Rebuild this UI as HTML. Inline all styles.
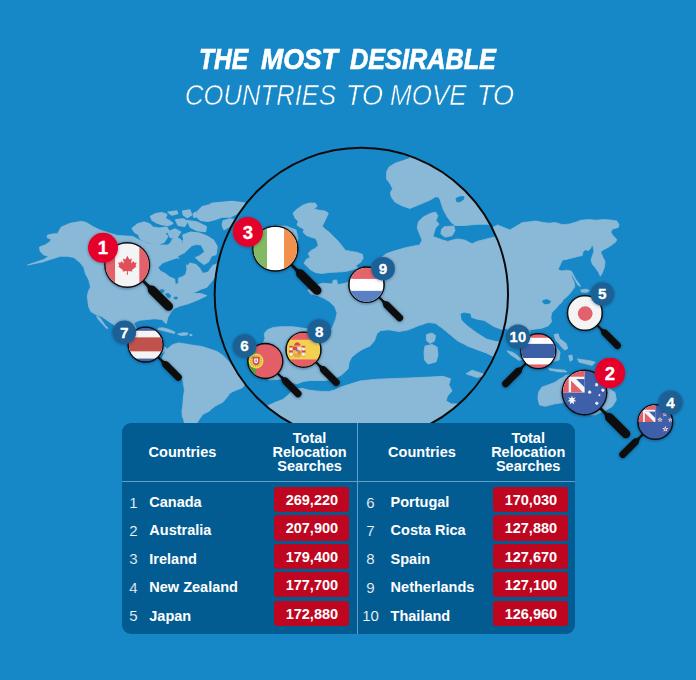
<!DOCTYPE html>
<html><head><meta charset="utf-8"><title>The most desirable countries to move to</title>
<style>
html,body{margin:0;padding:0}
body{width:696px;height:680px;overflow:hidden;background:#1788c7;position:relative;font-family:"Liberation Sans",sans-serif;color:#fff}
.t1,.t2{position:absolute;left:0;width:696px;height:36px;text-align:left;white-space:nowrap;font-style:italic;color:#fff}
.t1{top:40.5px;font-size:29.5px;font-weight:700;line-height:36px;-webkit-text-stroke:0.7px #fff}
.t2{top:77px;font-size:30px;font-weight:400;line-height:36px;-webkit-text-stroke:0.5px #1788c7}
.t1 span,.t2 span{position:absolute;top:0;display:block;transform-origin:0 50%}
.tbl{position:absolute;left:121.5px;top:423.3px;width:453.8px;height:211.2px;background:#035c91;border-radius:9px}
.hl{position:absolute;left:121.5px;top:480.6px;width:453.8px;height:1px;background:#5f9fc9}
.vl{position:absolute;left:356.7px;top:423.3px;width:1px;height:211.2px;background:#5f9fc9}
.hd{position:absolute;font-weight:700;font-size:14.5px;line-height:17px;white-space:nowrap}
.tot{position:absolute;width:100px;text-align:center;font-weight:700;font-size:14.5px;line-height:13.9px;white-space:nowrap}
.num{position:absolute;width:30px;text-align:center;font-size:15px;line-height:17px;color:#ffffff;-webkit-text-stroke:0.2px #035c91}
.nm{position:absolute;font-weight:700;font-size:14.5px;line-height:17px;white-space:nowrap}
.bx{position:absolute;width:75px;height:25.2px;border-radius:3px;background:#be0621;text-align:center;font-weight:700;font-size:14.5px;line-height:27.4px;white-space:nowrap}
</style></head><body>
<div class="t1"><span style="left:199.3px;transform:scaleX(0.833)">THE</span><span style="left:261.2px;transform:scaleX(0.902)">MOST</span><span style="left:350.1px;transform:scaleX(0.856)">DESIRABLE</span></div>
<div class="t2"><span style="left:184.8px;transform:scaleX(0.855)">COUNTRIES</span><span style="left:345.5px;transform:scaleX(0.905)">TO</span><span style="left:390.4px;transform:scaleX(0.868)">MOVE</span><span style="left:476.7px;transform:scaleX(0.905)">TO</span></div>
<svg width="696" height="680" viewBox="0 0 696 680" style="position:absolute;left:0;top:0;font-family:'Liberation Sans',sans-serif">
<defs>
<clipPath id="lens"><circle cx="361.35" cy="294.5" r="146.7"/></clipPath>
<filter id="sh" x="-30%" y="-30%" width="160%" height="160%"><feDropShadow dx="0" dy="0.5" stdDeviation="1.6" flood-color="#03233d" flood-opacity="0.55"/></filter>
<filter id="sh2" x="-30%" y="-30%" width="160%" height="160%"><feDropShadow dx="0" dy="0.5" stdDeviation="1.4" flood-color="#03233d" flood-opacity="0.45"/></filter>
<clipPath id="c_ca"><circle r="21.65"/></clipPath><clipPath id="c_cr"><circle r="16.85"/></clipPath><clipPath id="c_ie"><circle r="21.85"/></clipPath><clipPath id="c_nl"><circle r="17.05"/></clipPath><clipPath id="c_pt"><circle r="16.85"/></clipPath><clipPath id="c_es"><circle r="16.85"/></clipPath><clipPath id="c_jp"><circle r="16.75"/></clipPath><clipPath id="c_th"><circle r="16.85"/></clipPath><clipPath id="q_au"><rect x="-13.42" y="-13.42" width="13.42" height="13.42"/></clipPath><clipPath id="c_au"><circle r="21.65"/></clipPath><clipPath id="q_nz"><rect x="-10.38" y="-10.38" width="10.38" height="10.38"/></clipPath><clipPath id="c_nz"><circle r="16.75"/></clipPath>
</defs>
<g id="outer">
<polygon points="27.5,265.0 35.0,262.5 43.8,259.5 48.8,256.3 43.8,255.0 40.0,251.3 39.5,247.0 45.0,245.0 49.5,242.0 51.3,239.5 47.0,237.5 47.5,235.0 53.8,233.8 57.5,233.8 59.5,230.0 61.3,227.0 70.0,223.3 81.3,221.3 86.3,222.5 92.5,226.3 100.0,230.0 117.5,235.5 125.0,235.9 132.8,236.4 139.7,240.2 147.4,243.3 157.8,245.0 168.1,245.0 170.7,242.4 172.4,239.0 176.7,237.2 181.0,239.8 182.8,245.0 184.5,250.2 189.7,252.8 193.1,255.3 191.4,259.1 187.1,259.1 176.7,257.9 169.0,260.6 162.6,263.0 158.0,267.6 160.3,271.0 164.9,273.3 169.5,276.8 174.7,279.1 175.3,284.3 178.2,283.7 178.7,277.9 182.2,276.8 185.6,274.5 186.8,269.9 187.9,264.7 188.8,262.9 194.0,264.0 202.6,263.7 211.2,265.7 214.7,270.9 215.5,276.0 212.0,281.2 206.8,287.4 200.6,289.4 196.5,291.5 192.4,293.5 200.6,293.5 206.8,295.6 198.5,299.7 188.2,303.8 180.0,306.0 175.0,308.0 171.8,311.0 168.0,317.0 166.2,323.8 161.9,319.5 154.7,318.8 147.5,319.5 140.3,320.2 136.0,321.6 133.9,323.8 138.0,331.0 146.0,331.0 152.0,329.0 151.0,336.0 146.0,340.0 152.0,345.0 158.0,349.0 165.0,347.0 168.0,350.0 162.0,353.0 154.0,352.0 146.0,348.0 138.0,342.0 128.0,338.0 118.0,330.0 113.8,324.5 110.2,322.4 105.9,319.5 101.6,316.6 97.2,315.2 94.4,313.7 90.8,311.6 88.6,306.6 87.9,300.8 87.2,296.5 88.6,290.7 90.5,287.0 88.8,280.0 85.5,273.8 83.8,267.5 80.0,262.5 73.8,257.5 67.5,256.3 60.0,256.3 55.0,258.0 50.0,259.5 42.5,262.0" fill="#8ab9d8" stroke="#8ab9d8" stroke-width="0.8" stroke-linejoin="round"/>
<polygon points="162.9,355.9 167.2,349.0 172.4,344.7 178.4,342.9 184.5,343.8 189.7,344.7 194.8,345.5 201.7,346.4 206.9,348.1 212.1,349.8 217.2,351.6 222.4,355.0 225.9,358.4 229.3,361.9 232.8,367.1 236.2,372.2 239.7,377.4 243.1,381.7 244.5,385.2 242.2,387.8 237.9,389.5 233.6,391.2 230.2,392.9 227.6,396.4 225.0,399.8 222.4,402.4 219.0,404.1 215.5,405.9 212.1,408.4 209.5,411.0 206.0,412.8 202.6,414.5 200.9,417.1 199.1,419.7 197.4,422.2 196.6,426.6 185.3,426.6 183.6,419.7 182.4,416.2 181.9,411.0 182.8,405.9 183.1,400.7 183.6,395.5 184.5,390.3 183.6,385.2 182.8,380.0 174.1,373.1 167.2,364.5 162.1,358.4" fill="#8ab9d8" stroke="#8ab9d8" stroke-width="0.8" stroke-linejoin="round"/>
<polygon points="158.0,328.2 163.0,327.8 169.0,329.5 175.0,332.0 174.5,333.5 168.0,332.0 162.0,330.3 158.0,329.6" fill="#8ab9d8" stroke="#8ab9d8" stroke-width="0.8" stroke-linejoin="round"/>
<polygon points="177.5,334.0 183.0,332.8 188.0,333.0 187.0,335.0 181.0,335.5" fill="#8ab9d8" stroke="#8ab9d8" stroke-width="0.8" stroke-linejoin="round"/>
<polygon points="189.8,334.4 192.0,334.4 192.0,335.6 189.8,335.6" fill="#8ab9d8" stroke="#8ab9d8" stroke-width="0.8" stroke-linejoin="round"/>
<polygon points="96.5,315.9 100.1,318.0 105.1,325.2 108.0,328.1 106.6,328.6 102.5,324.0 98.0,319.0" fill="#8ab9d8" stroke="#8ab9d8" stroke-width="0.8" stroke-linejoin="round"/>
<polygon points="132.8,228.6 137.9,224.3 144.0,222.6 149.1,224.3 152.6,227.8 159.5,228.6 166.4,227.8 168.1,230.3 163.8,233.8 167.2,236.4 163.8,241.6 157.8,244.1 150.9,242.4 144.8,240.7 140.5,238.1 138.8,233.8 135.3,232.1" fill="#8ab9d8" stroke="#8ab9d8" stroke-width="2.4" stroke-linejoin="round"/>
<polygon points="150.9,216.6 156.0,214.0 162.1,213.1 166.4,214.8 164.7,218.3 169.0,220.9 172.4,223.4 168.1,225.2 162.1,224.3 156.9,222.6 152.6,220.0" fill="#8ab9d8" stroke="#8ab9d8" stroke-width="2.0" stroke-linejoin="round"/>
<polygon points="168.1,212.2 176.7,211.0 177.6,213.6 171.6,215.0" fill="#8ab9d8" stroke="#8ab9d8" stroke-width="1.4" stroke-linejoin="round"/>
<polygon points="175.9,220.0 183.6,219.1 187.1,221.7 184.5,226.0 178.4,225.2" fill="#8ab9d8" stroke="#8ab9d8" stroke-width="1.8" stroke-linejoin="round"/>
<polygon points="182.8,211.4 189.7,210.2 191.4,214.8 187.1,217.4 183.6,214.8" fill="#8ab9d8" stroke="#8ab9d8" stroke-width="1.8" stroke-linejoin="round"/>
<polygon points="193.1,214.0 195.7,212.2 196.6,216.6 194.0,217.4" fill="#8ab9d8" stroke="#8ab9d8" stroke-width="1.2" stroke-linejoin="round"/>
<polygon points="197.4,212.2 202.6,207.1 209.5,205.3 212.9,203.6 221.6,202.8 231.9,201.9 239.7,202.8 245.7,203.6 245.7,210.5 235.3,214.0 230.2,216.6 221.6,216.6 214.7,219.1 207.8,220.9 200.9,220.0 197.4,216.6" fill="#8ab9d8" stroke="#8ab9d8" stroke-width="2.2" stroke-linejoin="round"/>
<polygon points="223.3,220.9 230.2,219.1 235.3,220.0 235.3,223.4 228.4,226.9 224.1,229.5 222.4,225.2" fill="#8ab9d8" stroke="#8ab9d8" stroke-width="1.6" stroke-linejoin="round"/>
<polygon points="187.9,220.9 197.4,222.6 206.0,226.9 205.2,231.2 197.4,230.3 190.5,226.9" fill="#8ab9d8" stroke="#8ab9d8" stroke-width="2.0" stroke-linejoin="round"/>
<polygon points="168.1,232.1 175.0,229.5 180.2,232.1 176.7,237.2 170.7,237.2" fill="#8ab9d8" stroke="#8ab9d8" stroke-width="2.0" stroke-linejoin="round"/>
<polygon points="184.5,251.5 214.4,251.5 219.0,274.5 187.9,274.5" fill="#8ab9d8" stroke="#8ab9d8" stroke-width="0.8" stroke-linejoin="round"/>
<polygon points="182.8,240.2 189.7,241.9 192.2,245.9 191.9,253.6 193.1,255.0 184.5,250.5 182.8,245.0" fill="#8ab9d8" stroke="#8ab9d8" stroke-width="0.8" stroke-linejoin="round"/>
<polygon points="193.1,255.0 200.9,254.5 207.8,259.1 203.4,262.6 197.4,263.1 193.1,260.5" fill="#8ab9d8" stroke="#8ab9d8" stroke-width="0.8" stroke-linejoin="round"/>
<polygon points="183.6,235.5 190.5,232.9 199.1,233.8 206.0,236.4 212.9,240.7 216.4,246.7 215.5,253.6 211.2,257.9 206.0,259.7 201.7,255.3 204.3,250.2 199.1,246.7 194.0,245.0 188.8,242.4 184.5,239.8" fill="#8ab9d8" stroke="#8ab9d8" stroke-width="2.6" stroke-linejoin="round"/>
<polygon points="486.0,229.0 490.0,228.8 497.5,225.0 510.0,230.0 522.5,222.5 530.0,221.8 535.9,221.0 543.2,222.5 549.1,223.2 555.0,222.5 562.4,224.7 569.7,224.0 577.1,221.8 580.7,220.3 588.8,219.6 596.2,220.3 603.5,219.6 610.1,220.0 616.8,221.0 619.0,224.7 618.2,227.6 612.4,229.1 610.9,232.1 612.4,235.0 616.8,239.4 616.0,241.6 612.4,244.6 607.9,247.5 603.5,249.7 600.6,251.9 602.8,257.1 605.0,261.5 604.3,267.4 602.1,273.2 600.3,276.2 599.1,273.2 596.2,268.8 592.5,264.4 591.0,260.0 592.5,255.6 594.0,251.2 593.2,246.8 591.8,245.3 591.0,247.5 588.8,250.4 585.1,249.7 582.9,251.9 582.2,255.6 578.5,256.3 572.6,257.8 566.8,259.3 562.4,260.0 560.1,265.1 557.9,269.6 561.6,271.0 566.8,270.3 571.2,271.0 573.4,274.7 575.6,279.1 578.5,282.8 580.7,286.5 577.8,285.0 574.9,279.9 572.4,275.4 570.9,273.5 571.9,277.6 574.1,282.1 574.9,286.5 572.6,290.1 569.7,293.8 566.8,296.8 563.1,299.7 561.6,302.6 558.9,304.7 555.7,308.8 551.6,312.8 550.8,317.7 551.6,321.7 548.4,325.7 541.9,328.2 535.5,329.0 529.8,329.8 530.0,340.0 534.0,350.0 530.0,356.0 524.0,350.0 520.0,345.0 512.0,336.0 507.0,328.5 486.0,328.5" fill="#8ab9d8" stroke="#8ab9d8" stroke-width="0.8" stroke-linejoin="round"/>
<polygon points="580.7,290.1 585.9,289.1 589.6,290.6 586.6,292.4 581.5,292.1" fill="#8ab9d8" stroke="#8ab9d8" stroke-width="0.8" stroke-linejoin="round"/>
<polygon points="507.1,350.8 512.8,352.4 517.7,355.7 521.7,359.7 519.3,360.5 514.4,357.3 509.6,354.1" fill="#8ab9d8" stroke="#8ab9d8" stroke-width="0.8" stroke-linejoin="round"/>
<polygon points="554.1,334.6 558.1,333.8 559.7,338.7 563.0,341.1 566.2,343.5 567.8,348.4 564.6,350.0 561.3,346.8 558.9,343.5 555.7,340.3" fill="#8ab9d8" stroke="#8ab9d8" stroke-width="0.8" stroke-linejoin="round"/>
<polygon points="548.0,349.0 556.0,347.0 560.0,352.0 559.0,360.0 551.0,362.0 547.0,357.0" fill="#8ab9d8" stroke="#8ab9d8" stroke-width="0.8" stroke-linejoin="round"/>
<polygon points="568.6,355.7 571.9,354.9 572.7,359.7 570.2,361.3" fill="#8ab9d8" stroke="#8ab9d8" stroke-width="0.8" stroke-linejoin="round"/>
<polygon points="577.5,358.9 582.4,359.7 588.9,360.5 595.3,362.2 592.1,365.4 585.6,363.8 579.1,362.2" fill="#8ab9d8" stroke="#8ab9d8" stroke-width="0.8" stroke-linejoin="round"/>
<polygon points="548.4,368.6 556.5,369.4 564.6,370.2 567.0,371.9 559.7,371.9 550.0,370.2" fill="#8ab9d8" stroke="#8ab9d8" stroke-width="0.8" stroke-linejoin="round"/>
<polygon points="538.7,392.1 541.9,387.2 548.4,384.8 554.9,382.4 559.7,379.1 563.0,377.5 565.0,375.5 575.0,374.0 585.0,372.0 595.0,376.0 603.0,382.0 607.5,387.5 615.0,392.5 616.3,400.0 612.5,406.3 606.3,410.0 600.0,412.5 595.0,415.0 585.0,414.0 575.0,408.0 563.8,402.5 555.0,403.8 545.0,406.3 539.5,405.0 537.9,398.6" fill="#8ab9d8" stroke="#8ab9d8" stroke-width="0.8" stroke-linejoin="round"/>
<polygon points="178.2,256.7 184.5,253.6 191.4,246.9 196.0,245.2 200.6,245.7 203.8,251.5 199.4,254.9 194.3,257.2 198.3,261.3 204.0,265.5 209.2,262.4 212.1,256.7 216.7,255.5 216.7,263.0 212.6,264.7 209.8,268.2 208.0,271.3 202.9,272.4 200.6,268.2 196.0,263.6 189.7,262.1 187.4,265.1 184.5,261.3 181.0,259.3" fill="#1788c7" stroke="#1788c7" stroke-width="0.8" stroke-linejoin="round"/>
<polygon points="159.7,290.4 162.3,289.4 164.2,290.4 163.6,292.2 161.0,292.6" fill="#1788c7" stroke="#1788c7" stroke-width="0.8" stroke-linejoin="round"/>
<polygon points="165.5,293.9 168.1,293.3 170.7,295.2 170.0,297.8 167.5,297.2" fill="#1788c7" stroke="#1788c7" stroke-width="0.8" stroke-linejoin="round"/>
<polygon points="173.9,297.4 176.5,296.9 177.9,298.2 175.9,299.2 174.2,298.7" fill="#1788c7" stroke="#1788c7" stroke-width="0.8" stroke-linejoin="round"/>
<polygon points="542.7,300.7 546.8,299.5 550.8,301.5 549.2,303.4 545.2,303.9 543.2,302.8" fill="#1788c7" stroke="#1788c7" stroke-width="0.8" stroke-linejoin="round"/>
</g>
<circle cx="361.35" cy="294.5" r="146.7" fill="#1788c7"/>
<g id="inner" clip-path="url(#lens)">
<polygon points="409.8,150.0 409.8,158.3 402.5,160.8 395.2,163.2 389.1,166.9 386.6,171.8 386.6,179.1 390.3,184.0 392.7,188.9 390.3,192.5 391.5,197.4 395.2,202.3 402.5,206.0 409.8,208.4 417.2,205.5 423.3,203.0 430.6,199.8 435.5,196.7 439.2,197.4 440.9,202.3 443.3,209.6 447.2,216.9 451.4,222.6 455.0,225.5 464.8,225.5 477.0,224.3 486.8,224.3 494.1,225.5 520.0,225.0 520.0,150.0" fill="#8ab9d8" stroke="#8ab9d8" stroke-width="0.8" stroke-linejoin="round"/>
<polygon points="444.0,226.7 453.8,226.0 455.0,230.4 452.1,235.7 445.3,237.2 440.9,234.0 441.6,229.2" fill="#8ab9d8" stroke="#8ab9d8" stroke-width="0.8" stroke-linejoin="round"/>
<polygon points="293.0,213.1 297.1,209.1 303.1,205.1 309.1,203.1 315.2,203.1 317.2,206.1 314.2,209.1 318.2,210.1 325.2,211.1 328.3,213.1 326.2,218.2 324.2,222.2 322.2,226.2 325.2,229.2 329.3,232.3 334.3,237.3 338.3,241.3 342.3,246.3 345.4,250.4 351.4,251.4 357.4,252.4 362.5,254.4 363.1,258.4 360.5,262.4 355.8,265.5 357.8,267.7 353.4,269.5 345.4,271.5 337.3,272.1 329.3,272.5 321.2,273.5 315.2,272.5 310.2,269.5 307.1,266.5 304.1,263.4 306.1,259.4 310.2,257.4 308.1,253.4 311.2,250.4 315.2,248.4 318.2,245.3 317.2,241.3 315.2,238.3 311.2,237.3 306.1,235.3 303.1,232.3 304.1,229.2 300.1,227.2 297.1,225.2 298.1,221.2 295.1,218.2" fill="#8ab9d8" stroke="#8ab9d8" stroke-width="0.8" stroke-linejoin="round"/>
<polygon points="262.0,232.0 272.0,226.0 286.0,226.0 296.0,230.0 298.0,238.0 296.0,250.0 290.0,260.0 278.0,266.0 264.0,264.0 256.0,256.0 255.0,244.0" fill="#8ab9d8" stroke="#8ab9d8" stroke-width="0.8" stroke-linejoin="round"/>
<polygon points="520.0,236.5 496.6,236.5 486.8,238.9 477.0,241.4 472.1,243.8 464.8,240.1 457.5,238.9 452.6,240.1 447.7,241.4 442.8,240.1 433.0,236.5 435.5,227.9 439.2,224.3 436.0,220.6 437.9,215.7 435.5,212.1 430.6,213.3 423.3,216.9 418.4,221.8 417.2,227.9 419.6,234.0 422.1,240.1 419.6,245.0 406.2,247.5 394.0,251.1 386.6,253.6 381.8,257.2 376.0,262.0 370.0,268.0 362.0,274.0 355.4,278.0 349.8,281.4 344.2,283.6 337.6,284.6 336.7,279.9 333.3,280.3 332.0,284.0 322.7,283.2 312.4,286.4 307.7,290.2 310.5,293.9 317.5,295.6 323.6,298.1 329.7,301.8 334.6,306.6 337.0,312.7 335.8,318.9 333.4,325.0 330.9,329.8 320.0,329.0 305.3,328.6 293.0,326.7 280.8,326.7 273.5,327.4 267.4,329.8 264.2,333.5 265.0,338.4 262.0,346.0 258.0,356.0 258.0,368.0 262.0,376.0 270.0,380.0 282.8,378.8 289.7,381.4 296.6,384.0 303.4,381.4 310.3,380.5 319.0,380.5 325.9,380.5 332.8,378.8 339.7,376.2 344.0,372.8 348.3,368.4 349.1,362.4 351.7,357.2 356.9,352.9 362.1,349.5 370.0,346.0 374.4,340.9 377.0,333.5 380.5,330.6 389.0,329.8 398.9,331.6 408.6,329.8 418.4,325.7 428.2,322.5 435.5,323.3 442.8,328.6 450.2,334.7 457.5,340.8 467.2,345.7 477.0,349.4 486.8,353.0 494.1,356.7 520.0,357.0" fill="#8ab9d8" stroke="#8ab9d8" stroke-width="0.8" stroke-linejoin="round"/>
<polygon points="494.1,356.7 486.8,353.0 477.0,349.4 467.2,345.7 520.0,345.0" fill="#8ab9d8" stroke="#8ab9d8" stroke-width="0.8" stroke-linejoin="round"/>
<polygon points="425.0,346.0 432.0,344.5 437.0,347.0 438.0,355.0 436.0,362.0 428.0,364.0 424.5,360.0 424.0,352.0" fill="#8ab9d8" stroke="#8ab9d8" stroke-width="0.8" stroke-linejoin="round"/>
<polygon points="426.5,334.5 432.0,333.0 435.5,335.5 434.5,341.0 430.0,343.5 426.5,340.5" fill="#8ab9d8" stroke="#8ab9d8" stroke-width="0.8" stroke-linejoin="round"/>
<polygon points="466.0,373.8 472.1,370.2 486.8,375.0 477.0,377.5" fill="#8ab9d8" stroke="#8ab9d8" stroke-width="0.8" stroke-linejoin="round"/>
<polygon points="263.5,407.0 269.0,405.2 275.9,402.1 282.8,399.5 287.1,396.0 291.4,391.7 296.6,389.1 301.7,388.3 308.6,390.0 315.5,390.9 322.4,391.4 329.3,391.4 334.5,390.0 339.7,387.4 346.6,385.2 353.4,383.1 359.8,381.1 374.4,379.4 389.1,378.7 403.7,378.2 418.4,377.5 430.6,377.0 442.8,376.3 450.6,378.7 448.9,384.8 452.1,390.9 447.7,395.8 446.0,400.7 451.4,403.9 459.9,403.9 480.0,445.0 300.0,445.0" fill="#8ab9d8" stroke="#8ab9d8" stroke-width="0.8" stroke-linejoin="round"/>
<polygon points="461.0,314.0 464.0,313.0 470.0,314.0 471.0,318.0 477.0,320.0 484.3,321.3 494.1,327.4 503.9,331.0 515.0,333.0 515.0,342.0 503.0,341.5 496.6,340.8 486.8,338.4 477.0,332.3 467.2,325.0 462.0,320.0" fill="#1788c7" stroke="#1788c7" stroke-width="0.8" stroke-linejoin="round"/>
<polygon points="456.0,198.5 459.5,196.8 464.0,196.5 463.5,199.5 459.5,202.0 456.5,201.5" fill="#1788c7" stroke="#1788c7" stroke-width="0.8" stroke-linejoin="round"/>
</g>
<circle cx="361.35" cy="294.5" r="146.7" fill="none" stroke="#0b0b0b" stroke-width="2.0"/>
<g id="mags">
<g transform="translate(127.2,265.0)"><g filter="url(#sh)"><g transform="rotate(45)"><rect x="22.00" y="-1.38" width="9.12" height="2.75" fill="#0a0a0a"/><path d="M28.25,-1.38 C31.50,-1.38 32.50,-4.44 35.75,-4.44 L58.50,-4.44 A4.44,4.44 0 0 1 58.50,4.44 L35.75,4.44 C32.50,4.44 31.50,1.38 28.25,1.38 Z" fill="#0a0a0a"/></g><circle r="23.00" fill="#0a0a0a"/></g><g clip-path="url(#c_ca)"><rect x="-21.650000" y="-21.650000" width="43.300000" height="43.300000" fill="#f4f4f4"/><rect x="-21.650000" y="-21.650000" width="9.526000" height="43.300000" fill="#e4616b"/><rect x="12.124000" y="-21.650000" width="10.825000" height="43.300000" fill="#e4616b"/><path d="M0,-9 L2,-5.2 L4.6,-6.4 L3.6,-1.2 L6.4,-3.6 L7,-1.8 L9.6,-2.2 L8.4,1 L9.4,2 L4.6,5.6 L5.2,7.2 L0.5,6.6 L0.6,10.5 L-0.6,10.5 L-0.5,6.6 L-5.2,7.2 L-4.6,5.6 L-9.4,2 L-8.4,1 L-9.6,-2.2 L-7,-1.8 L-6.4,-3.6 L-3.6,-1.2 L-4.6,-6.4 L-2,-5.2 Z" fill="#e24f5b" transform="translate(0.2,-0.4) scale(0.972245)"/></g></g><g filter="url(#sh2)"><circle cx="103.0" cy="247.8" r="15.0" fill="#e4002b"/></g><text x="103.0" y="254.4" font-size="18.6" font-weight="700" fill="#fff" text-anchor="middle" stroke="#fff" stroke-width="0.3">1</text>
<g transform="translate(145.6,344.6)"><g filter="url(#sh)"><g transform="rotate(45)"><rect x="17.20" y="-1.09" width="7.43" height="2.18" fill="#0a0a0a"/><path d="M22.35,-1.09 C24.93,-1.09 25.72,-3.51 28.29,-3.51 L46.29,-3.51 A3.51,3.51 0 0 1 46.29,3.51 L28.29,3.51 C25.72,3.51 24.93,1.09 22.35,1.09 Z" fill="#0a0a0a"/></g><circle r="18.20" fill="#0a0a0a"/></g><g clip-path="url(#c_cr)"><rect x="-16.850000" y="-16.850000" width="33.700000" height="33.700000" fill="#4163a9"/><rect x="-16.850000" y="-13.817000" width="33.700000" height="27.802500" fill="#f5f3f3"/><rect x="-16.850000" y="-7.245500" width="33.700000" height="13.985500" fill="#c0524c"/></g></g><g filter="url(#sh2)"><circle cx="124.3" cy="332.3" r="11.8" fill="#1a6095"/></g><text x="124.3" y="337.7" font-size="15.2" font-weight="700" fill="#fff" text-anchor="middle" stroke="#fff" stroke-width="0.3">7</text>
<g transform="translate(275.3,248.6)"><g filter="url(#sh)"><g transform="rotate(45)"><rect x="22.20" y="-1.39" width="9.20" height="2.77" fill="#0a0a0a"/><path d="M28.50,-1.39 C31.77,-1.39 32.78,-4.48 36.06,-4.48 L59.01,-4.48 A4.48,4.48 0 0 1 59.01,4.48 L36.06,4.48 C32.78,4.48 31.77,1.39 28.50,1.39 Z" fill="#0a0a0a"/></g><circle r="23.20" fill="#0a0a0a"/></g><g clip-path="url(#c_ie)"><rect x="-21.850000" y="-21.850000" width="43.700000" height="43.700000" fill="#ffffff"/><rect x="-21.850000" y="-21.850000" width="13.547000" height="43.700000" fill="#82b963"/><rect x="8.740000" y="-21.850000" width="13.547000" height="43.700000" fill="#f2914e"/></g></g><g filter="url(#sh2)"><circle cx="247.8" cy="231.9" r="15.0" fill="#e4002b"/></g><text x="247.8" y="238.5" font-size="18.6" font-weight="700" fill="#fff" text-anchor="middle" stroke="#fff" stroke-width="0.3">3</text>
<g transform="translate(366.5,284.7)"><g filter="url(#sh)"><g transform="rotate(45)"><rect x="17.40" y="-1.10" width="7.50" height="2.20" fill="#0a0a0a"/><path d="M22.60,-1.10 C25.20,-1.10 26.00,-3.55 28.60,-3.55 L46.80,-3.55 A3.55,3.55 0 0 1 46.80,3.55 L28.60,3.55 C26.00,3.55 25.20,1.10 22.60,1.10 Z" fill="#0a0a0a"/></g><circle r="18.40" fill="#0a0a0a"/></g><g clip-path="url(#c_nl)"><rect x="-17.050000" y="-17.050000" width="34.100000" height="34.100000" fill="#ffffff"/><rect x="-17.050000" y="-17.050000" width="34.100000" height="11.253000" fill="#e4646c"/><rect x="-17.050000" y="6.138000" width="34.100000" height="11.935000" fill="#5a82c2"/></g></g><g filter="url(#sh2)"><circle cx="383.1" cy="268.7" r="11.8" fill="#1a6095"/></g><text x="383.1" y="274.1" font-size="15.2" font-weight="700" fill="#fff" text-anchor="middle" stroke="#fff" stroke-width="0.3">9</text>
<g transform="translate(265.3,361.0)"><g filter="url(#sh)"><g transform="rotate(45)"><rect x="17.20" y="-1.09" width="7.43" height="2.18" fill="#0a0a0a"/><path d="M22.35,-1.09 C24.93,-1.09 25.72,-3.51 28.29,-3.51 L46.29,-3.51 A3.51,3.51 0 0 1 46.29,3.51 L28.29,3.51 C25.72,3.51 24.93,1.09 22.35,1.09 Z" fill="#0a0a0a"/></g><circle r="18.20" fill="#0a0a0a"/></g><g clip-path="url(#c_pt)"><rect x="-16.850000" y="-16.850000" width="33.700000" height="33.700000" fill="#e45e67"/><rect x="-16.850000" y="-16.850000" width="7.666750" height="33.700000" fill="#5f9a4a"/><circle cx="-9.183250" cy="0.000000" r="7.414000" fill="#f3d84a"/><circle cx="-9.183250" cy="0.000000" r="5.223500" fill="none" stroke="#b7b046" stroke-width="1.516500" stroke-dasharray="1.1 0.9"/><path d="M-12.721750,-4.212500 h7.077000 v4.549500 q0,3.875500 -3.538500,3.875500 q-3.538500,0 -3.538500,-3.875500 z" fill="#dc4a54"/><path d="M-11.121000,-2.527500 h3.875500 v2.527500 q0,2.359000 -1.937750,2.359000 q-1.937750,0 -1.937750,-2.359000 z" fill="#fbfbfb"/><rect x="-9.857250" y="-1.516500" width="1.348000" height="2.527500" fill="#6c8bc6"/></g></g><g filter="url(#sh2)"><circle cx="244.6" cy="346.0" r="11.8" fill="#1a6095"/></g><text x="244.6" y="351.4" font-size="15.2" font-weight="700" fill="#fff" text-anchor="middle" stroke="#fff" stroke-width="0.3">6</text>
<g transform="translate(303.5,349.7)"><g filter="url(#sh)"><g transform="rotate(45)"><rect x="17.20" y="-1.09" width="7.43" height="2.18" fill="#0a0a0a"/><path d="M22.35,-1.09 C24.93,-1.09 25.72,-3.51 28.29,-3.51 L46.29,-3.51 A3.51,3.51 0 0 1 46.29,3.51 L28.29,3.51 C25.72,3.51 24.93,1.09 22.35,1.09 Z" fill="#0a0a0a"/></g><circle r="18.20" fill="#0a0a0a"/></g><g clip-path="url(#c_es)"><rect x="-16.850000" y="-16.850000" width="33.700000" height="33.700000" fill="#f3d04f"/><rect x="-16.850000" y="-16.850000" width="33.700000" height="6.908500" fill="#e45e67"/><rect x="-16.850000" y="9.773000" width="33.700000" height="8.425000" fill="#e45e67"/><rect x="-13.648500" y="-2.359000" width="2.443250" height="8.593500" fill="#f3f0ee"/><rect x="-14.154000" y="-3.875500" width="3.454250" height="1.685000" fill="#d6474f"/><rect x="-14.491000" y="0.674000" width="4.128250" height="2.190500" fill="#d6474f"/><rect x="-14.154000" y="6.066000" width="3.454250" height="1.011000" fill="#d9b04a"/><rect x="-1.432250" y="-2.359000" width="2.611750" height="8.593500" fill="#f3f0ee"/><rect x="-1.937750" y="-3.875500" width="3.622750" height="1.685000" fill="#d6474f"/><rect x="-2.274750" y="0.674000" width="4.296750" height="2.190500" fill="#d6474f"/><rect x="-1.937750" y="6.066000" width="3.622750" height="1.011000" fill="#d9b04a"/><path d="M-10.615500,-3.033000 h8.762000 v6.740000 q0,3.942900 -4.381000,3.942900 q-4.381000,0 -4.381000,-3.942900 z" fill="#e3a84c"/><rect x="-10.615500" y="-3.033000" width="4.381000" height="3.707000" fill="#d6474f"/><rect x="-6.234500" y="-3.033000" width="4.381000" height="3.707000" fill="#f0dcd6"/><rect x="-10.615500" y="0.674000" width="4.381000" height="3.370000" fill="#ecc252"/><rect x="-5.183060" y="1.011000" width="1.752400" height="3.370000" fill="#dd6a50"/><circle cx="-6.234500" cy="0.674000" r="1.179500" fill="#5f80c2"/><path d="M-9.436000,-5.055000 q3.201500,-4.549500 6.403000,0 l-0.337000,1.516500 h-5.729000 z" fill="#d6474f"/><rect x="-9.267500" y="-4.296750" width="6.066000" height="1.095250" fill="#e0b54a"/></g></g><g filter="url(#sh2)"><circle cx="319.2" cy="331.3" r="12.0" fill="#1a6095"/></g><text x="319.2" y="336.7" font-size="15.2" font-weight="700" fill="#fff" text-anchor="middle" stroke="#fff" stroke-width="0.3">8</text>
<g transform="translate(584.9,313.0)"><g filter="url(#sh)"><g transform="rotate(45)"><rect x="17.10" y="-1.08" width="7.39" height="2.16" fill="#0a0a0a"/><path d="M22.23,-1.08 C24.79,-1.08 25.58,-3.49 28.13,-3.49 L46.04,-3.49 A3.49,3.49 0 0 1 46.04,3.49 L28.13,3.49 C25.58,3.49 24.79,1.08 22.23,1.08 Z" fill="#0a0a0a"/></g><circle r="18.10" fill="#0a0a0a"/></g><g clip-path="url(#c_jp)"><rect x="-16.750000" y="-16.750000" width="33.500000" height="33.500000" fill="#f4f4f4"/><circle cx="0.3" cy="0.6" r="7.370000" fill="#e2616b"/></g></g><g filter="url(#sh2)"><circle cx="602.3" cy="294.0" r="11.8" fill="#1a6095"/></g><text x="602.3" y="299.4" font-size="15.2" font-weight="700" fill="#fff" text-anchor="middle" stroke="#fff" stroke-width="0.3">5</text>
<g transform="translate(538.3,351.1)"><g filter="url(#sh)"><g transform="rotate(135)"><rect x="17.20" y="-1.09" width="7.43" height="2.18" fill="#0a0a0a"/><path d="M22.35,-1.09 C24.93,-1.09 25.72,-3.51 28.29,-3.51 L46.29,-3.51 A3.51,3.51 0 0 1 46.29,3.51 L28.29,3.51 C25.72,3.51 24.93,1.09 22.35,1.09 Z" fill="#0a0a0a"/></g><circle r="18.20" fill="#0a0a0a"/></g><g clip-path="url(#c_th)"><rect x="-16.850000" y="-16.850000" width="33.700000" height="33.700000" fill="#e4626b"/><rect x="-16.850000" y="-13.311500" width="33.700000" height="26.623000" fill="#ffffff"/><rect x="-16.850000" y="-7.245500" width="33.700000" height="14.154000" fill="#3d5fa6"/></g></g><g filter="url(#sh2)"><circle cx="518.1" cy="336.6" r="12.1" fill="#1a6095"/></g><text x="518.1" y="341.8" font-size="14.7" font-weight="700" fill="#fff" text-anchor="middle" letter-spacing="0.35" stroke="#fff" stroke-width="0.3">10</text>
<g transform="translate(584.5,392.5)"><g filter="url(#sh)"><g transform="rotate(45)"><rect x="22.00" y="-1.38" width="9.12" height="2.75" fill="#0a0a0a"/><path d="M28.25,-1.38 C31.50,-1.38 32.50,-4.44 35.75,-4.44 L58.50,-4.44 A4.44,4.44 0 0 1 58.50,4.44 L35.75,4.44 C32.50,4.44 31.50,1.38 28.25,1.38 Z" fill="#0a0a0a"/></g><circle r="23.00" fill="#0a0a0a"/></g><g clip-path="url(#c_au)"><rect x="-21.650000" y="-21.650000" width="43.300000" height="43.300000" fill="#3e60aa"/><rect x="-21.650000" y="-21.650000" width="21.650000" height="21.650000" fill="#f6f6f6"/><rect x="-13.423000" y="-13.423000" width="13.423000" height="13.423000" fill="#3e60aa"/><g clip-path="url(#q_au)"><polygon points="-10.2,-15.4 7.2,2.0 -15.4,2.0 -15.4,-15.4" fill="#f6f6f6"/><polygon points="-17.0,-15.4 0.5,2.0 -17.4,2.0 -17.4,-15.4" fill="#e35f69"/></g><rect x="-21.650000" y="-21.650000" width="21.650000" height="5.845500" fill="#e35f69"/><rect x="-21.650000" y="-21.650000" width="5.845500" height="21.650000" fill="#e35f69"/><polygon points="-12.6,3.1 -11.6,5.7 -8.9,4.8 -10.4,7.2 -8.0,8.7 -10.8,9.1 -10.5,11.9 -12.6,9.9 -14.6,11.9 -14.3,9.1 -17.1,8.7 -14.7,7.2 -16.2,4.8 -13.5,5.7" fill="#f6f6f6"/><polygon points="12.1,-10.0 12.6,-8.9 13.8,-9.1 13.3,-8.1 14.2,-7.3 13.1,-7.1 13.1,-5.8 12.1,-6.6 11.2,-5.8 11.2,-7.1 10.0,-7.3 11.0,-8.1 10.4,-9.1 11.6,-8.9" fill="#f6f6f6"/><polygon points="5.2,-2.5 5.7,-1.4 6.8,-1.7 6.3,-0.6 7.3,0.2 6.1,0.4 6.1,1.6 5.2,0.9 4.2,1.6 4.2,0.4 3.0,0.2 4.0,-0.6 3.5,-1.7 4.6,-1.4" fill="#f6f6f6"/><polygon points="18.4,-4.5 18.9,-3.4 20.1,-3.7 19.6,-2.6 20.5,-1.9 19.3,-1.6 19.3,-0.4 18.4,-1.1 17.5,-0.4 17.5,-1.6 16.3,-1.9 17.2,-2.6 16.7,-3.7 17.9,-3.4" fill="#f6f6f6"/><polygon points="12.3,8.7 12.8,9.8 14.0,9.5 13.5,10.6 14.4,11.3 13.2,11.6 13.2,12.8 12.3,12.0 11.4,12.8 11.4,11.6 10.2,11.3 11.1,10.6 10.6,9.5 11.8,9.8" fill="#f6f6f6"/><polygon points="14.9,1.3 15.4,2.1 16.2,2.2 15.6,2.9 15.7,3.7 14.9,3.4 14.2,3.7 14.3,2.9 13.7,2.2 14.5,2.1" fill="#f6f6f6"/></g></g><g filter="url(#sh2)"><circle cx="610.0" cy="373.0" r="15.2" fill="#e4002b"/></g><text x="610.0" y="379.6" font-size="18.6" font-weight="700" fill="#fff" text-anchor="middle" stroke="#fff" stroke-width="0.3">2</text>
<g transform="translate(655.3,422.0)"><g filter="url(#sh)"><g transform="rotate(135)"><rect x="17.10" y="-1.08" width="7.39" height="2.16" fill="#0a0a0a"/><path d="M22.23,-1.08 C24.79,-1.08 25.58,-3.49 28.13,-3.49 L46.04,-3.49 A3.49,3.49 0 0 1 46.04,3.49 L28.13,3.49 C25.58,3.49 24.79,1.08 22.23,1.08 Z" fill="#0a0a0a"/></g><circle r="18.10" fill="#0a0a0a"/></g><g clip-path="url(#c_nz)"><rect x="-16.750000" y="-16.750000" width="33.500000" height="33.500000" fill="#3e60aa"/><rect x="-16.750000" y="-16.750000" width="16.750000" height="16.750000" fill="#f6f6f6"/><rect x="-10.385000" y="-10.385000" width="10.385000" height="10.385000" fill="#3e60aa"/><g clip-path="url(#q_nz)"><polygon points="-8.4,-12.4 6.0,2.0 -12.4,2.0 -12.4,-12.4" fill="#f6f6f6"/><polygon points="-13.6,-12.4 0.8,2.0 -14.4,2.0 -14.4,-12.4" fill="#e35f69"/></g><rect x="-16.750000" y="-16.750000" width="16.750000" height="4.522500" fill="#e35f69"/><rect x="-16.750000" y="-16.750000" width="4.522500" height="16.750000" fill="#e35f69"/><polygon points="9.6,-10.3 10.3,-8.6 12.2,-8.4 10.8,-7.2 11.2,-5.5 9.6,-6.4 8.1,-5.5 8.5,-7.2 7.1,-8.4 8.9,-8.6" fill="#f6f6f6"/><polygon points="9.6,-9.2 10.0,-8.2 11.1,-8.1 10.3,-7.4 10.5,-6.4 9.6,-6.9 8.7,-6.4 9.0,-7.4 8.2,-8.1 9.2,-8.2" fill="#e35f69"/><polygon points="4.6,-5.1 5.4,-3.3 7.3,-3.1 5.9,-1.8 6.3,0.1 4.6,-0.9 3.0,0.1 3.4,-1.8 1.9,-3.1 3.9,-3.3" fill="#f6f6f6"/><polygon points="4.6,-3.9 5.1,-2.8 6.2,-2.7 5.3,-2.0 5.6,-0.9 4.6,-1.5 3.7,-0.9 3.9,-2.0 3.1,-2.7 4.2,-2.8" fill="#e35f69"/><polygon points="15.0,-4.5 15.7,-2.9 17.4,-2.8 16.1,-1.7 16.5,0.0 15.0,-0.9 13.5,0.0 13.9,-1.7 12.6,-2.8 14.3,-2.9" fill="#f6f6f6"/><polygon points="15.0,-3.5 15.4,-2.5 16.4,-2.5 15.6,-1.8 15.8,-0.8 15.0,-1.4 14.1,-0.8 14.4,-1.8 13.6,-2.5 14.6,-2.5" fill="#e35f69"/><polygon points="10.0,3.9 10.9,5.9 13.1,6.1 11.4,7.5 11.9,9.6 10.0,8.5 8.2,9.6 8.7,7.5 7.0,6.1 9.2,5.9" fill="#f6f6f6"/><polygon points="10.0,5.2 10.5,6.4 11.8,6.5 10.8,7.3 11.1,8.5 10.0,7.9 9.0,8.5 9.3,7.3 8.3,6.5 9.6,6.4" fill="#e35f69"/></g></g><g filter="url(#sh2)"><circle cx="670.5" cy="402.4" r="12.0" fill="#1a6095"/></g><text x="670.5" y="407.8" font-size="15.2" font-weight="700" fill="#fff" text-anchor="middle" stroke="#fff" stroke-width="0.3">4</text>
</g>
</svg>
<div class="tbl"></div><div class="hl"></div><div class="vl"></div>
<div class="hd" style="left:148.6px;top:443.5px">Countries</div><div class="tot" style="left:259.6px;top:432px">Total<br>Relocation<br>Searches</div><div class="num" style="left:118.3px;top:493.6px">1</div><div class="nm" style="left:149.3px;top:493.9px">Canada</div><div class="bx" style="left:274.4px;top:487.0px">269,220</div><div class="num" style="left:118.3px;top:522.0px">2</div><div class="nm" style="left:149.3px;top:522.3px">Australia</div><div class="bx" style="left:274.4px;top:515.4px">207,900</div><div class="num" style="left:118.3px;top:550.4px">3</div><div class="nm" style="left:149.3px;top:550.7px">Ireland</div><div class="bx" style="left:274.4px;top:543.8px">179,400</div><div class="num" style="left:118.3px;top:578.8px">4</div><div class="nm" style="left:149.3px;top:579.1px">New Zealand</div><div class="bx" style="left:274.4px;top:572.2px">177,700</div><div class="num" style="left:118.3px;top:607.2px">5</div><div class="nm" style="left:149.3px;top:607.5px">Japan</div><div class="bx" style="left:274.4px;top:600.6px">172,880</div>
<div class="hd" style="left:388.1px;top:443.5px">Countries</div><div class="tot" style="left:478.2px;top:432px">Total<br>Relocation<br>Searches</div><div class="num" style="left:355.5px;top:493.6px">6</div><div class="nm" style="left:390.6px;top:493.9px">Portugal</div><div class="bx" style="left:493.4px;top:487.0px">170,030</div><div class="num" style="left:355.5px;top:522.0px">7</div><div class="nm" style="left:390.6px;top:522.3px">Costa Rica</div><div class="bx" style="left:493.4px;top:515.4px">127,880</div><div class="num" style="left:355.5px;top:550.4px">8</div><div class="nm" style="left:390.6px;top:550.7px">Spain</div><div class="bx" style="left:493.4px;top:543.8px">127,670</div><div class="num" style="left:355.5px;top:578.8px">9</div><div class="nm" style="left:390.6px;top:579.1px">Netherlands</div><div class="bx" style="left:493.4px;top:572.2px">127,100</div><div class="num" style="left:355.5px;top:607.2px">10</div><div class="nm" style="left:390.6px;top:607.5px">Thailand</div><div class="bx" style="left:493.4px;top:600.6px">126,960</div>
</body></html>
